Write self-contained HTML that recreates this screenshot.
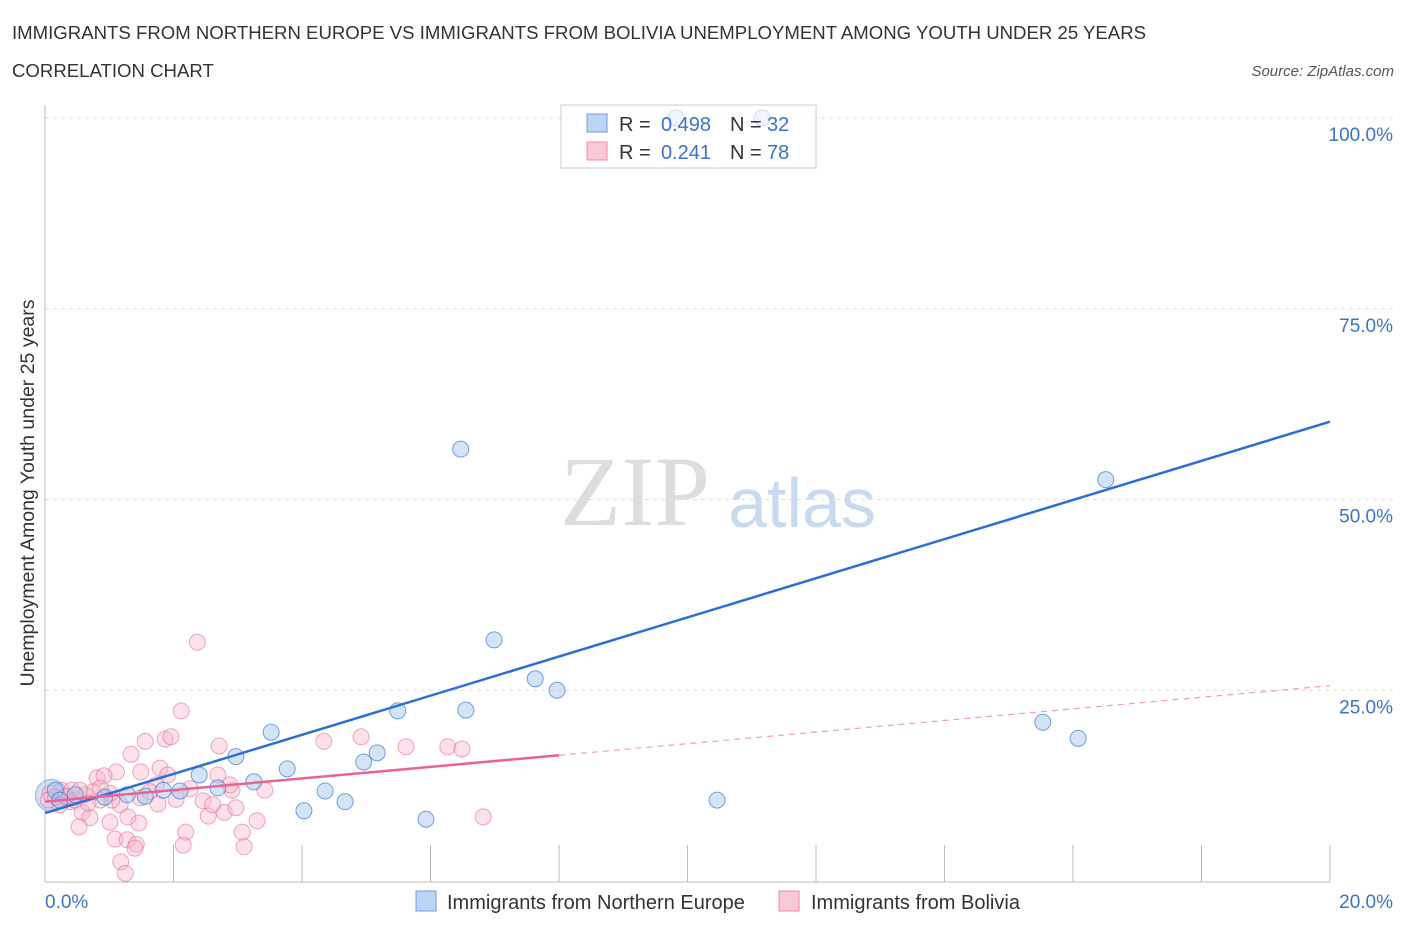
<!DOCTYPE html>
<html><head><meta charset="utf-8"><style>
body{margin:0;background:#fff;font-family:"Liberation Sans",sans-serif}
</style></head><body>
<svg id="c" width="1406" height="930" xmlns="http://www.w3.org/2000/svg" font-family="Liberation Sans, sans-serif">
<text x="12" y="39" font-size="18.6" fill="#333">IMMIGRANTS FROM NORTHERN EUROPE VS IMMIGRANTS FROM BOLIVIA UNEMPLOYMENT AMONG YOUTH UNDER 25 YEARS</text>
<text x="12" y="77" font-size="18.6" fill="#333">CORRELATION CHART</text>
<text x="1394" y="76" font-size="15" fill="#555" font-style="italic" text-anchor="end">Source: ZipAtlas.com</text>
<g id="grid"></g>
<text x="635" y="525" font-size="100" fill="#ddd" style="font-family:'Liberation Serif',serif" text-anchor="middle">ZIP</text>
<text x="802" y="527" font-size="70" fill="#c9daf0" text-anchor="middle">atlas</text>
<g id="pts"></g>
<g id="lines"></g>
<text transform="translate(34,493) rotate(-90)" font-size="19.5" fill="#333" text-anchor="middle">Unemployment Among Youth under 25 years</text>
<text x="45" y="908" font-size="19" fill="#3b73c8">0.0%</text>
<text x="1393" y="908" font-size="19" fill="#3b73c8" text-anchor="end">20.0%</text>
<g>
<rect x="561" y="105" width="255" height="63" fill="rgba(255,255,255,0.65)" stroke="#ccc"/>
<rect x="587" y="114" width="20" height="18" fill="#bcd4f5" stroke="#6f9ee0"/>
<rect x="587" y="142" width="20" height="18" fill="#fbc8d6" stroke="#ec8aa8"/>
<text x="619" y="131" font-size="20" fill="#333">R =</text>
<text x="711" y="131" font-size="20" fill="#3b73c8" text-anchor="end">0.498</text>
<text x="730" y="131" font-size="20" fill="#333">N =</text>
<text x="767" y="131" font-size="20" fill="#3b73c8">32</text>
<text x="619" y="159" font-size="20" fill="#333">R =</text>
<text x="711" y="159" font-size="20" fill="#3b73c8" text-anchor="end">0.241</text>
<text x="730" y="159" font-size="20" fill="#333">N =</text>
<text x="767" y="159" font-size="20" fill="#3b73c8">78</text>
</g>
<g>
<rect x="416" y="891" width="20" height="20" fill="#bcd4f5" stroke="#6f9ee0"/>
<text x="447" y="909" font-size="20" fill="#333">Immigrants from Northern Europe</text>
<rect x="779" y="891" width="20" height="20" fill="#fbc8d6" stroke="#ec8aa8"/>
<text x="811" y="909" font-size="20" fill="#333">Immigrants from Bolivia</text>
</g>
</svg>
<script>
const blueX=[9.82,11.16,6.47,16.51,6.99,7.63,7.97,5.49,6.55,3.52,15.53,16.08,2.97,5.17,4.96,3.77,3.25,2.40,4.36,4.67,2.69,4.03,5.93,10.46,1.84,2.10,1.56,1.28,0.93,0.47,0.16,0.23];
const blueY=[100,100,56.6,52.6,31.6,26.5,25.0,22.3,22.4,19.5,20.8,18.7,16.3,16.8,15.6,14.7,13.0,13.9,11.8,10.4,12.2,9.2,8.1,10.6,11.9,11.8,11.1,11.3,11.0,11.3,11.9,10.6];
const pinkX=[2.37,2.12,1.87,1.96,1.56,2.71,1.34,4.34,4.92,5.62,6.27,6.49,6.82,1.79,1.49,1.11,0.81,0.92,1.91,2.69,1.73,2.91,2.04,2.46,1.76,0.86,1.17,0.58,0.70,0.53,1.01,1.46,1.29,2.54,2.79,2.97,2.61,3.30,3.07,2.19,2.15,3.10,1.09,1.28,1.42,1.40,1.18,1.25,0.39,0.26,0.08,0.16,0.31,0.42,0.62,0.75,1.01,0.86,0.23,0.05,0.47,0.67,0.33,1.48,1.63,2.26,3.42,2.88,1.04,0.54];
const pinkY=[31.3,22.3,18.6,18.9,18.3,17.7,16.6,18.3,18.9,17.6,17.6,17.3,8.4,14.8,14.3,14.3,13.5,13.8,13.9,13.9,12.6,11.9,10.7,10.5,10.1,10.6,10.0,9.0,8.3,7.1,7.7,7.6,8.4,8.5,9.0,9.6,10.0,7.9,6.4,6.4,4.7,4.5,5.5,5.4,4.8,4.3,2.5,1.0,10.4,11.9,11.5,11.0,11.0,11.9,11.3,11.7,11.5,12.2,10.0,10.6,10.6,10.2,11.1,10.9,11.7,12.1,11.9,12.6,10.6,11.9];
const yTicks=[25,50,75,100];
const yTickLabels=["25.0%","50.0%","75.0%","100.0%"];
const xTicks=[0,2,4,6,8,10,12,14,16,18,20];
const blueTrend=[8.9,60.2];
const pinkTrend=[10.4,25.6];
const pinkSolidEnd=8.0;
const X=v=>45+v*64.25, Y=v=>881-v*7.63;
const NS="http://www.w3.org/2000/svg";
function mk(t,a,p){const e=document.createElementNS(NS,t);for(const k in a)e.setAttribute(k,a[k]);p.appendChild(e);return e;}
const g=document.getElementById('grid');
yTicks.forEach((t,i)=>{
 const l=mk('line',{x1:45,x2:1393,y1:Y(t),y2:Y(t),stroke:'#ddd','stroke-dasharray':'4,4'},g);
 
 
 const tx=mk('text',{x:1393,y:Y(t)+23,'font-size':19,fill:'#3b73c8','text-anchor':'end'},g);
 tx.textContent=yTickLabels[i];
 
 
});
const ax=mk('line',{x1:45,x2:45,y1:105,y2:882,stroke:'#bbb'},g);


const bx=mk('line',{x1:45,x2:1330,y1:882,y2:882,stroke:'#bbb'},g);


xTicks.forEach(t=>{const l=mk('line',{x1:X(t),x2:X(t),y1:845,y2:882,stroke:'#bbb'},g);
 
 });
const p=document.getElementById('pts');
const big=mk('circle',{cx:X(0.1),cy:Y(11.2),r:16,fill:'rgba(160,195,240,0.5)',stroke:'rgba(90,140,220,0.6)'},p);


pinkX.forEach((x,i)=>{const c=mk('circle',{cx:X(x),cy:Y(pinkY[i]),r:8,fill:'rgba(248,180,200,0.4)',stroke:'rgba(232,110,150,0.6)'},p);
 
 });
blueX.forEach((x,i)=>{const c=mk('circle',{cx:X(x),cy:Y(blueY[i]),r:8,fill:'rgba(160,195,240,0.45)',stroke:'rgba(70,130,215,0.75)'},p);
 
 });
const L=document.getElementById('lines');
const bl=mk('line',{x1:X(0),y1:Y(blueTrend[0]),x2:X(20),y2:Y(blueTrend[1]),stroke:'#2a6fd6','stroke-width':2.5},L);


const pm=v=>pinkTrend[0]+(pinkTrend[1]-pinkTrend[0])*v/20;
const pl=mk('line',{x1:X(0),y1:Y(pinkTrend[0]),x2:X(pinkSolidEnd),y2:Y(pm(pinkSolidEnd)),stroke:'#e8648e','stroke-width':2.5},L);


const pd=mk('line',{x1:X(pinkSolidEnd),y1:Y(pm(pinkSolidEnd)),x2:X(20),y2:Y(pinkTrend[1]),stroke:'#e8a0b8','stroke-width':1.2,'stroke-dasharray':'6,5'},L);


</script>
</body></html>
